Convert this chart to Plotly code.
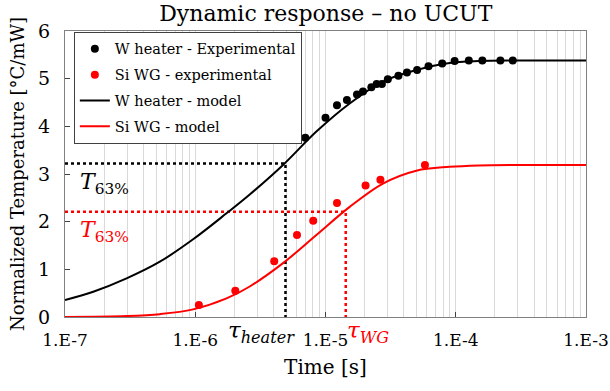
import plotly.graph_objects as go

# ---- data ----
heater_exp_t = [7.0e-6, 1.0e-5, 1.225e-5, 1.46e-5, 1.745e-5, 1.94e-5, 2.25e-5, 2.47e-5, 2.71e-5,
                3.01e-5, 3.63e-5, 4.22e-5, 5.05e-5, 6.18e-5, 7.87e-5, 9.8e-5, 1.26e-4, 1.6e-4, 2.2e-4, 2.74e-4]
heater_exp_y = [3.76, 4.18, 4.44, 4.55, 4.67, 4.73, 4.82, 4.89, 4.89,
                4.99, 5.06, 5.13, 5.18, 5.26, 5.32, 5.37, 5.38, 5.38, 5.38, 5.38]

wg_exp_t = [1.066e-6, 2.03e-6, 4.04e-6, 6.04e-6, 8.05e-6, 1.225e-5, 2.03e-5, 2.64e-5, 5.8e-5]
wg_exp_y = [0.25, 0.55, 1.17, 1.72, 2.02, 2.39, 2.76, 2.88, 3.19]

heater_mod_t = [1e-7, 1.648e-7, 2.97e-7, 5.35e-7, 9.63e-7, 1.738e-6, 2.62e-6, 4.72e-6, 8.51e-6,
                1.533e-5, 2.76e-5, 4.98e-5, 8.97e-5, 1.5e-4, 3e-4, 1e-3]
heater_mod_y = [0.357, 0.53, 0.81, 1.16, 1.63, 2.175, 2.57, 3.19, 3.89,
                4.48, 4.94, 5.18, 5.33, 5.37, 5.38, 5.38]

wg_mod_t = [1e-7, 2.97e-7, 5.35e-7, 9.63e-7, 1.738e-6, 2.62e-6, 4.72e-6, 8.51e-6,
            1.533e-5, 2.76e-5, 4.98e-5, 8.97e-5, 1.5e-4, 3e-4, 1e-3]
wg_mod_y = [0.0, 0.02, 0.06, 0.16, 0.39, 0.64, 1.13, 1.72,
            2.31, 2.80, 3.07, 3.15, 3.18, 3.19, 3.19]

tau_heater = 4.93e-6
tau_wg = 1.43e-5
t63_heater = 3.22
t63_wg = 2.21
x_start = 1e-7

tick_vals = [1e-7, 1e-6, 1e-5, 1e-4, 1e-3]
tick_text = ["1.E-7", "1.E-6", "1.E-5", "1.E-4", "1.E-3"]
minor_vals = [m * d for d in [1e-7, 1e-6, 1e-5, 1e-4] for m in range(2, 10)]

FONT = "DejaVu Serif"
MFONT = "DejaVu Serif"
RED = "#ff0000"

fig = go.Figure()

# dotted guide lines
fig.add_trace(go.Scatter(x=[x_start, tau_heater, tau_heater], y=[t63_heater, t63_heater, 0],
                         mode="lines", line=dict(color="black", width=2.5, dash="dot"),
                         showlegend=False, hoverinfo="skip"))
fig.add_trace(go.Scatter(x=[x_start, tau_wg, tau_wg], y=[t63_wg, t63_wg, 0],
                         mode="lines", line=dict(color=RED, width=2.5, dash="dot"),
                         showlegend=False, hoverinfo="skip"))

fig.add_trace(go.Scatter(x=heater_exp_t, y=heater_exp_y, mode="markers",
                         marker=dict(color="black", size=8), name="W heater - Experimental",
                         legendgroup="a"))
fig.add_trace(go.Scatter(x=wg_exp_t, y=wg_exp_y, mode="markers",
                         marker=dict(color=RED, size=8), name="Si WG - experimental",
                         legendgroup="b"))
fig.add_trace(go.Scatter(x=heater_mod_t, y=heater_mod_y, mode="lines",
                         line=dict(color="black", width=2, shape="spline", smoothing=1),
                         name="W heater - model", legendgroup="c"))
fig.add_trace(go.Scatter(x=wg_mod_t, y=wg_mod_y, mode="lines",
                         line=dict(color=RED, width=2, shape="spline", smoothing=1),
                         name="Si WG - model", legendgroup="d"))

# annotations
fig.add_annotation(x=-7, y=t63_heater, xref="x", yref="y", xanchor="left", yanchor="top",
                   xshift=13, yshift=-3, showarrow=False,
                   text="<i>T</i><sub>63%</sub>", font=dict(family=MFONT, size=22, color="black"))
fig.add_annotation(x=-7, y=t63_wg, xref="x", yref="y", xanchor="left", yanchor="top",
                   xshift=13, yshift=-3, showarrow=False,
                   text="<i>T</i><sub>63%</sub>", font=dict(family=MFONT, size=22, color=RED))
fig.add_annotation(x=-5.49, y=0, xref="x", yref="y", xanchor="center", yanchor="top",
                   yshift=2, showarrow=False,
                   text="<i>τ</i><sub><i>heater</i></sub>", font=dict(family=MFONT, size=23, color="black"))
fig.add_annotation(x=-4.67, y=0, xref="x", yref="y", xanchor="center", yanchor="top",
                   yshift=2, showarrow=False,
                   text="<i>τ</i><sub><i>WG</i></sub>", font=dict(family=MFONT, size=23, color=RED))

fig.update_layout(
    width=610, height=391,
    margin=dict(l=65, r=24, t=31, b=74),
    paper_bgcolor="white", plot_bgcolor="white",
    font=dict(family=FONT, size=18, color="black"),
    title=dict(text="Dynamic response – no UCUT", x=0.534, xanchor="center", y=0.985, yanchor="top",
               font=dict(family=FONT, size=22, color="black")),
    legend=dict(x=0.017, y=0.997, xanchor="left", yanchor="top",
                bgcolor="white", bordercolor="#404040", borderwidth=1,
                font=dict(family=FONT, size=14.5), tracegroupgap=4, itemwidth=30),
)
fig.update_xaxes(type="log", range=[-7, -3], tickvals=tick_vals, ticktext=tick_text,
                 showgrid=True, gridcolor="#d9d9d9", gridwidth=1,
                 minor=dict(tickvals=minor_vals, showgrid=True, gridcolor="#d9d9d9", gridwidth=1, ticks=""),
                 ticks="inside", ticklen=5, tickcolor="#404040", ticklabelstandoff=8,
                 ticklabeloverflow="allow", automargin=False,
                 showline=True, linecolor="#808080", linewidth=1, mirror=True,
                 title=dict(text="Time [s]", font=dict(family=FONT, size=20), standoff=10),
                 tickfont=dict(family=FONT, size=17), zeroline=False)
fig.update_yaxes(range=[0, 6], dtick=1, showgrid=False, zeroline=False,
                 ticks="inside", ticklen=5, tickcolor="#404040", ticklabelstandoff=10,
                 showline=True, linecolor="#808080", linewidth=1, mirror=True,
                 title=dict(text="Normalized Temperature [°C/mW]", font=dict(family=FONT, size=18), standoff=8),
                 tickfont=dict(family=FONT, size=19))

fig.write_html("out.html")
